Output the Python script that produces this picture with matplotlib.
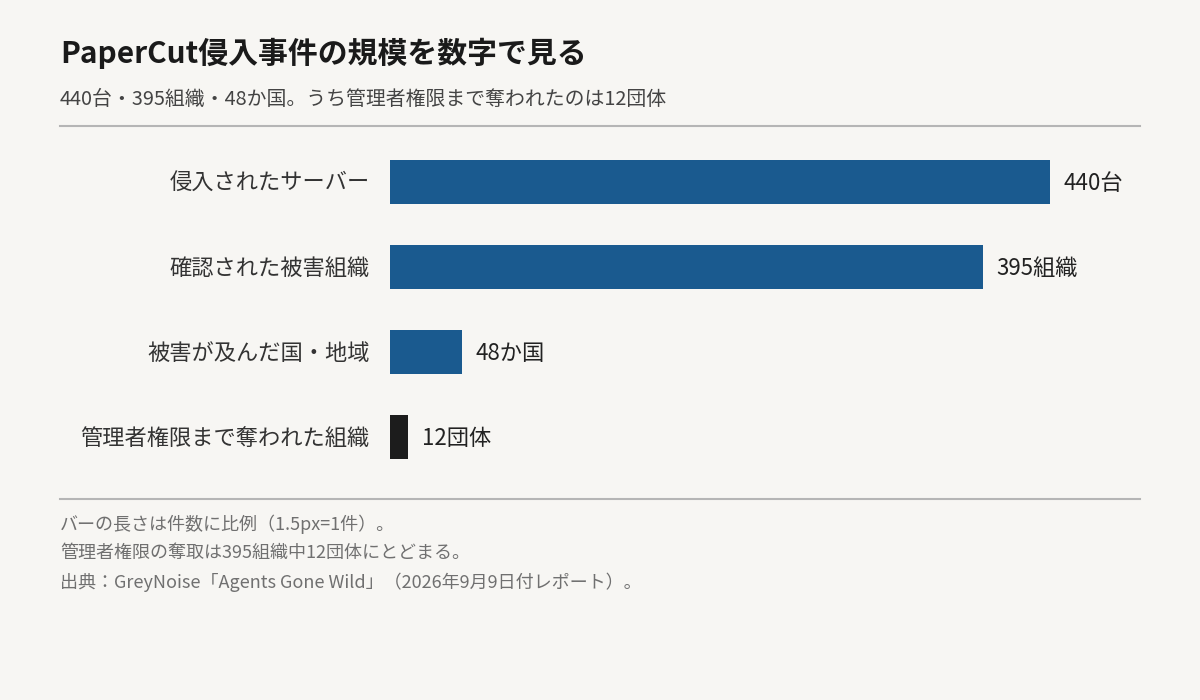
import matplotlib
matplotlib.use("Agg")
import matplotlib.pyplot as plt
from matplotlib.lines import Line2D

plt.rcParams['font.family'] = ['Noto Sans CJK JP', 'DejaVu Sans']

# ============================
#   Données
# ============================

categories = ["侵入されたサーバー", "確認された被害組織", "被害が及んだ国・地域", "管理者権限まで奪われた組織"]
values = [440, 395, 48, 12]
value_labels = ["440台", "395組織", "48か国", "12団体"]
bar_colors = ["#1a5a8f", "#1a5a8f", "#1a5a8f", "#1c1c1c"]

title = "PaperCut侵入事件の規模を数字で見る"
subtitle = "440台・395組織・48か国。うち管理者権限まで奪われたのは12団体"
notes = [
    "バーの長さは件数に比例（1.5px=1件）。",
    "管理者権限の奪取は395組織中12団体にとどまる。",
    "出典：GreyNoise「Agents Gone Wild」（2026年9月9日付レポート）。",
]

BG = "#f7f6f3"
W, H = 1200, 700


def fx(px):
    return px / W


def fy(py):
    return 1 - py / H


fig = plt.figure(figsize=(12, 7), dpi=100, facecolor=BG)

# axes : 1.5 px par unité, de x=390 à x=1140
ax = fig.add_axes([fx(390), fy(479.5), fx(750), (479.5 - 139.5) / H])
ax.set_facecolor(BG)
ax.set_xlim(0, 500)
ax.set_ylim(len(categories) - 0.5, -0.5)
for s in ax.spines.values():
    s.set_visible(False)
ax.set_xticks([])
ax.set_yticks([])

ypos = list(range(len(categories)))
ax.barh(ypos, values, height=44 / 85, color=bar_colors)
for y, v, lab, cat in zip(ypos, values, value_labels, categories):
    ax.annotate(lab, (v, y), xytext=(10, -1), textcoords="offset points",
                va="center", ha="left", fontsize=16, color="#222222")
    ax.annotate(cat, (0, y), xytext=(-14.5, -1), textcoords="offset points",
                va="center", ha="right", fontsize=16, color="#333333")

# titres
fig.text(fx(60), fy(53), title, fontsize=21.5, fontweight="bold",
         color="#1a1a1a", va="center", ha="left")
fig.text(fx(60), fy(99), subtitle, fontsize=14.3, color="#444444",
         va="center", ha="left")

# filets
for yy in (126, 499):
    fig.add_artist(Line2D([fx(60), fx(1140)], [fy(yy), fy(yy)],
                          color="#b5b5b5", lw=1.5))

# notes
for i, n in enumerate(notes):
    fig.text(fx(60), fy(524 + 29 * i), n, fontsize=13, color="#707070",
             va="center", ha="left")

fig.savefig("out.png", dpi=100, facecolor=BG)
